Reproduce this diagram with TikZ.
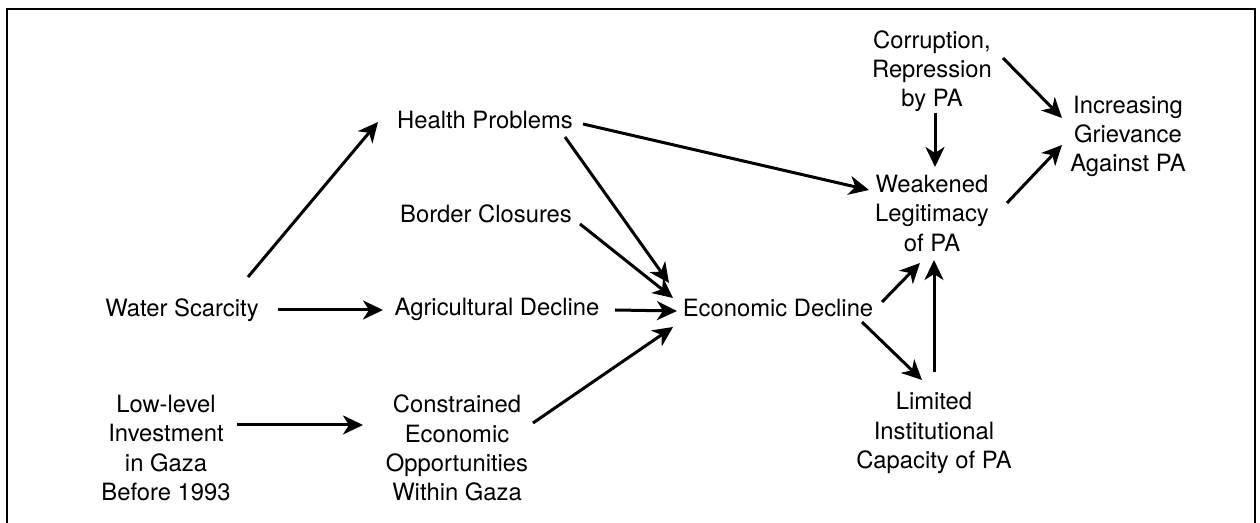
\documentclass[tikz,border=0pt]{standalone}
\usepackage{fontspec}
\setmainfont{TeX Gyre Heros}
\usetikzlibrary{arrows.meta}
\begin{document}
\begin{tikzpicture}[x=0.5pt,y=-0.5pt,
  lbl/.style={inner sep=0pt,align=center,font=\fontsize{11.9}{14.6}\selectfont},
  arr/.style={line width=1.5pt,-{Stealth[length=10pt,width=9.5pt,inset=3pt]}},
  frame/.style={line width=1pt}]
\useasboundingbox (0,0) rectangle (1260,523);
\draw[frame] (7,523) -- (7,9) -- (1255,9) -- (1255,523);
% single-line nodes (anchored at baseline)
\node[lbl,anchor=base] (ws) at (182,317) {Water Scarcity};
\node[lbl,anchor=base] (hp) at (485,129) {Health Problems};
\node[lbl,anchor=base] (bc) at (486,223) {Border Closures};
\node[lbl,anchor=base] (ad) at (497,316) {Agricultural Decline};
\node[lbl,anchor=base] (ed) at (778,317) {Economic Decline};
% multi-line nodes
\node[lbl] (cor) at (932,71) {Corruption,\\Repression\\by PA};
\node[lbl] (inc) at (1128,136.5) {Increasing\\Grievance\\Against PA};
\node[lbl] (wl) at (932,213.5) {Weakened\\Legitimacy\\of PA};
\node[lbl] (ll) at (166,448) {Low-level\\Investment\\in Gaza\\Before 1993};
\node[lbl] (ceo) at (457,448) {Constrained\\Economic\\Opportunities\\Within Gaza};
\node[lbl] (lic) at (934,433) {Limited\\Institutional\\Capacity of PA};
% connectors
\draw[arr] ([shift={(66,-40)}]ws.base) -- ([shift={(-107,-7)}]hp.base);
\draw[arr] ([shift={(96,-7)}]ws.base) -- ([shift={(-114,-6)}]ad.base);
\draw[arr] ([shift={(71,-23)}]ll.center) -- ([shift={(-94,-23)}]ceo.center);
\draw[arr] ([shift={(98,-5)}]hp.base) -- ([shift={(-63,-23.5)}]wl.center);
\draw[arr] ([shift={(80,8)}]hp.base) -- ([shift={(-109,-34)}]ed.base);
\draw[arr] ([shift={(94,1)}]bc.base) -- ([shift={(-105,-19)}]ed.base);
\draw[arr] ([shift={(118,-6)}]ad.base) -- ([shift={(-101,-6)}]ed.base);
\draw[arr] ([shift={(76,-25)}]ceo.center) -- ([shift={(-105,10)}]ed.base);
\draw[arr] ([shift={(104,-15)}]ed.base) -- ([shift={(-12,49.5)}]wl.center);
\draw[arr] ([shift={(84,5)}]ed.base) -- ([shift={(-12,-53)}]lic.center);
\draw[arr] ([shift={(0,-61)}]lic.center) -- ([shift={(2,46.5)}]wl.center);
\draw[arr] ([shift={(3,42)}]cor.center) -- ([shift={(3,-46.5)}]wl.center);
\draw[arr] ([shift={(71,-13)}]cor.center) -- ([shift={(-66,-18.5)}]inc.center);
\draw[arr] ([shift={(75,-10.5)}]wl.center) -- ([shift={(-66,8.5)}]inc.center);
\end{tikzpicture}
\end{document}
